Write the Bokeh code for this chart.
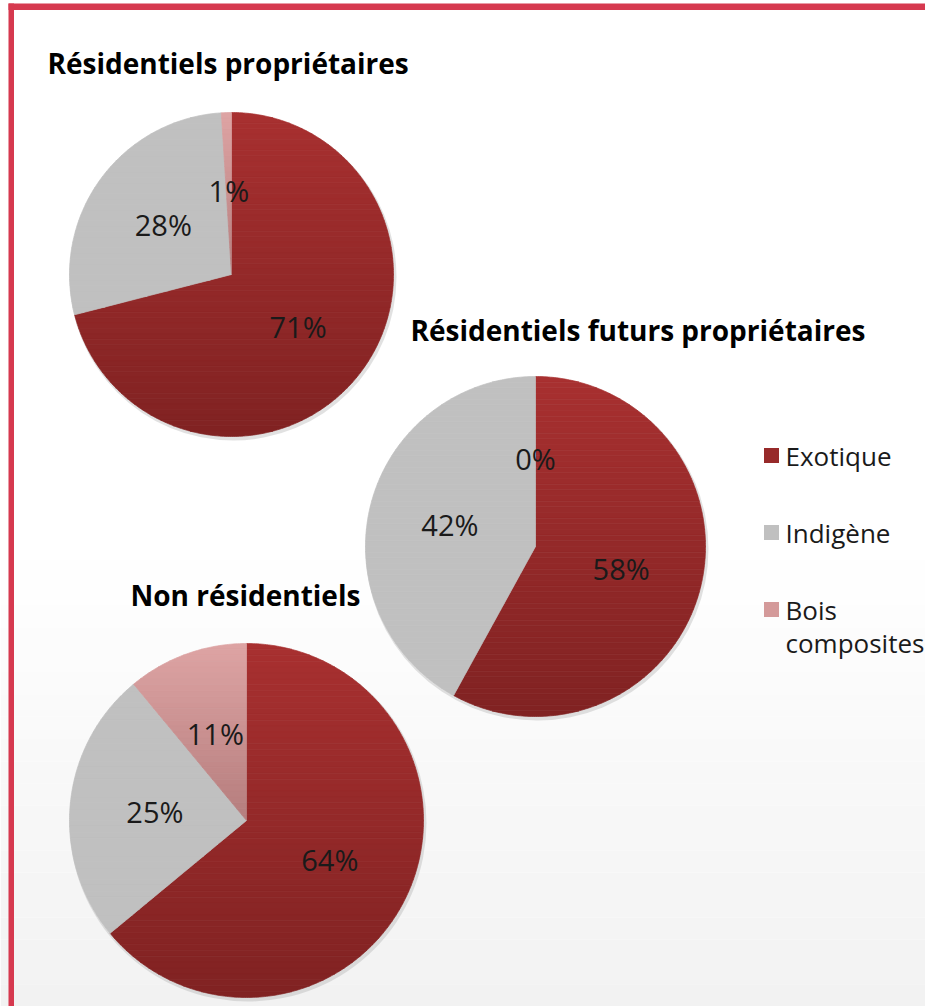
import numpy as np
from bokeh.plotting import figure
from bokeh.models import BoxAnnotation
from bokeh.core.properties import value
from bokeh.embed import file_html
from bokeh.resources import INLINE

# ---------------- data ----------------
categories = ["Exotique", "Indigène", "Bois composites"]
legend_lines = [["Exotique"], ["Indigène"], ["Bois", "composites"]]
pie_titles = ["Résidentiels propriétaires",
              "Résidentiels futurs propriétaires",
              "Non résidentiels"]
res_proprietaires = [71, 28, 1]
res_futurs_proprietaires = [58, 42, 0]
non_residentiels = [64, 25, 11]
series = [res_proprietaires, res_futurs_proprietaires, non_residentiels]

# ---------------- style / layout ----------------
# vertical gradient (top colour, bottom colour) for each category
grad = [((168, 48, 48), (128, 34, 34)),
        ((192, 192, 192), (192, 192, 192)),
        ((222, 164, 164), (140, 86, 86))]
legend_colors = ["#972a2a", "#c0c0c0", "#d49a9a"]
PAGE_W, PAGE_H = 925, 1006
W, H = 925, 1006
pie_centers = [(231, 274), (535, 546), (246, 820)]  # page pixels
pie_radii = [162, 170, 177]
title_pos = [(47, 62), (410, 329), (130, 594)]
legend_sq_x, legend_txt_x = 771, 785
legend_y = [455, 532, 609]
legend_line_gap = 33
FONT = "Open Sans"
N_BANDS = 60


def Y(py):
    return PAGE_H - py


def hexcol(c):
    return "#%02x%02x%02x" % tuple(int(round(v)) for v in c)


def clip_band(pts, ylo, yhi):
    def clip(poly, keep, inter):
        out = []
        n = len(poly)
        for i in range(n):
            a, b = poly[i], poly[(i + 1) % n]
            ka, kb = keep(a), keep(b)
            if ka:
                out.append(a)
                if not kb:
                    out.append(inter(a, b))
            elif kb:
                out.append(inter(a, b))
        return out

    def inter_y(yv):
        def f(a, b):
            t = (yv - a[1]) / (b[1] - a[1])
            return (a[0] + t * (b[0] - a[0]), yv)
        return f

    poly = clip(pts, lambda q: q[1] >= ylo, inter_y(ylo))
    if not poly:
        return poly
    return clip(poly, lambda q: q[1] <= yhi, inter_y(yhi))


p = figure(width=W, height=H, x_range=(0, PAGE_W), y_range=(0, PAGE_H),
           output_backend="svg", toolbar_location=None, min_border=0,
           background_fill_color="white", border_fill_color="white")
p.axis.visible = False
p.grid.visible = False
p.outline_line_color = None

# soft background gradient towards the bottom
n_bg = 20
for i in range(n_bg):
    top = 560 + i * (PAGE_H - 560) / n_bg
    bot = 560 + (i + 1) * (PAGE_H - 560) / n_bg
    g = 255 - 13 * (i + 1) / n_bg
    p.add_layout(BoxAnnotation(left=0, right=PAGE_W, top=Y(top), bottom=Y(bot),
                               fill_color=hexcol((g, g, g)), fill_alpha=1,
                               line_color=None, level="underlay"))

# red frame
frame_red = "#d6394f"
p.add_layout(BoxAnnotation(left=8, right=13.5, top=Y(3), bottom=Y(PAGE_H),
                           fill_color=frame_red, fill_alpha=1, line_color=None))
p.add_layout(BoxAnnotation(left=8, right=PAGE_W, top=Y(3), bottom=Y(9.5),
                           fill_color=frame_red, fill_alpha=1, line_color=None))

# ---------------- pies ----------------
for vals, (cx, cy), r, title, (tx, ty) in zip(series, pie_centers, pie_radii,
                                              pie_titles, title_pos):
    vals = np.array(vals, dtype=float)
    frac = vals / vals.sum()
    cum = np.concatenate([[0], np.cumsum(frac)])
    ycen = Y(cy)
    # shadow
    p.circle(x=[cx + 1.5], y=[ycen - 2.5], radius=r + 1.5, radius_units="screen",
             fill_color="#a8a8a8", fill_alpha=0.35, line_color=None)
    xs, ys, fc = [], [], []
    edges = np.linspace(ycen + r, ycen - r, N_BANDS + 1)
    for k in range(len(vals)):
        if vals[k] <= 0:
            continue
        a0 = np.pi / 2 - 2 * np.pi * cum[k]
        a1 = np.pi / 2 - 2 * np.pi * cum[k + 1]
        na = max(4, int(abs(a0 - a1) * 80))
        ang = np.linspace(a0, a1, na)
        poly = [(cx + r * np.cos(a), ycen + r * np.sin(a)) for a in ang]
        if frac[k] < 0.999:
            poly.append((cx, ycen))
        ctop, cbot = np.array(grad[k][0]), np.array(grad[k][1])
        for b in range(N_BANDS):
            yhi, ylo = edges[b], edges[b + 1]
            piece = clip_band(poly, ylo, yhi)
            if len(piece) < 3:
                continue
            t = (ycen + r - (yhi + ylo) / 2) / (2 * r)
            col = hexcol(ctop + (cbot - ctop) * t)
            xs.append([q[0] for q in piece])
            ys.append([q[1] for q in piece])
            fc.append(col)
    p.patches(xs=xs, ys=ys, fill_color=fc, line_color=fc, line_width=0.7)
    # labels
    mid = np.pi / 2 - 2 * np.pi * (cum[:-1] + cum[1:]) / 2
    lr = 0.52 * r
    lx = cx + lr * np.cos(mid)
    ly = ycen + lr * np.sin(mid)
    p.text(x=list(lx), y=list(ly), text=[f"{int(v)}%" for v in vals],
           text_font=value(FONT), text_font_size="29px", text_color="#1a1a1a",
           text_align="center", text_baseline="middle")
    # title
    p.text(x=[tx], y=[Y(ty)], text=[title], text_font=value(FONT),
           text_font_size="28px", text_font_style="bold", text_color="#000000",
           text_align="left", text_baseline="middle")

# ---------------- legend ----------------
p.scatter(x=[legend_sq_x] * 3, y=[Y(v) for v in legend_y], marker="square",
          size=15, fill_color=legend_colors, line_color=None)
lx, ly, lt = [], [], []
for lines, y0 in zip(legend_lines, legend_y):
    for k, t in enumerate(lines):
        lx.append(legend_txt_x)
        ly.append(Y(y0 + k * legend_line_gap))
        lt.append(t)
p.text(x=lx, y=ly, text=lt, text_font=value(FONT), text_font_size="26px",
       text_color="#1a1a1a", text_align="left", text_baseline="middle")

open("out.html", "w").write(file_html(p, INLINE))
